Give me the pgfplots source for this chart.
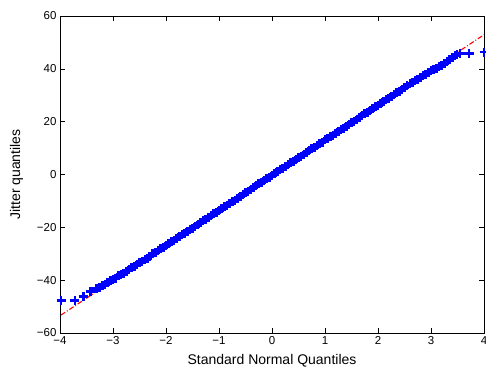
\documentclass[border=0pt]{standalone}
\usepackage{fontspec}
\setmainfont{Liberation Sans}
\usepackage{pgfplots}
\pgfplotsset{compat=1.18}
\begin{document}
\begin{tikzpicture}
\begin{axis}[
  scale only axis,
  width=424pt, height=317pt,
  xmin=-4, xmax=4, ymin=-60, ymax=60,
  xtick={-4,-3,-2,-1,0,1,2,3,4},
  xticklabels={−4,−3,−2,−1,0,1,2,3,4},
  ytick={-60,-40,-20,0,20,40,60},
  yticklabels={−60,−40,−20,0,20,40,60},
  tick align=inside,
  major tick length=5pt,
  axis line style={line width=0.6pt},
  every tick/.style={black, line width=0.6pt},
  tick label style={font=\fontsize{11.5}{13}\selectfont},
  label style={font=\fontsize{14}{16}\selectfont},
  xlabel={Standard Normal Quantiles},
  ylabel={Jitter quantiles},
  xlabel style={yshift=-3pt},
  ylabel style={yshift=7pt},
  clip=true,
]
\coordinate (sw) at (rel axis cs:0,0);
\coordinate (ne) at (rel axis cs:1,1);
\addplot[only marks, mark=+, mark size=4.5pt, color=blue, mark options={line width=2.6pt}] coordinates {
(-3.98,-47.8) (-3.72,-47.8) (-3.56,-46.2) (-3.43,-44.3) (-3.31,-43.1)
(-3.25,-42.8) (-3.20,-42.2) (-3.15,-41.6) (-3.10,-41.0) (-3.05,-40.3)
(-3.00,-39.6) (-2.95,-39.2) (-2.90,-38.4) (-2.85,-37.8) (-2.80,-37.3)
(-2.75,-36.6) (-2.70,-36.1) (-2.65,-35.1) (-2.60,-34.7) (-2.55,-34.2)
(-2.50,-33.3) (-2.45,-32.8) (-2.40,-32.0) (-2.35,-31.7) (-2.30,-30.9)
(-2.25,-30.0) (-2.20,-29.7) (-2.15,-28.8) (-2.10,-28.2) (-2.05,-27.8)
(-2.00,-26.8) (-1.95,-26.2) (-1.90,-25.5) (-1.85,-25.0) (-1.80,-24.1)
(-1.75,-23.6) (-1.70,-22.8) (-1.65,-22.3) (-1.60,-21.6) (-1.55,-20.8)
(-1.50,-20.3) (-1.45,-19.7) (-1.40,-18.9) (-1.35,-18.2) (-1.30,-17.6)
(-1.25,-17.0) (-1.20,-16.3) (-1.15,-15.5) (-1.10,-14.9) (-1.05,-14.4)
(-1.00,-13.6) (-0.95,-12.8) (-0.90,-12.3) (-0.85,-11.6) (-0.80,-10.8)
(-0.75,-10.3) (-0.70,-9.7) (-0.65,-8.9) (-0.60,-8.3) (-0.55,-7.5)
(-0.50,-7.0) (-0.45,-6.3) (-0.40,-5.7) (-0.35,-5.0) (-0.30,-4.3)
(-0.25,-3.5) (-0.20,-3.0) (-0.15,-2.3) (-0.10,-1.6) (-0.05,-1.0)
(0.00,-0.3) (0.05,0.4) (0.10,1.0) (0.15,1.8) (0.20,2.4)
(0.25,3.0) (0.30,3.6) (0.35,4.4) (0.40,5.0) (0.45,5.8)
(0.50,6.4) (0.55,7.0) (0.60,7.6) (0.65,8.3) (0.70,9.0)
(0.75,9.8) (0.80,10.3) (0.85,11.0) (0.90,11.6) (0.95,12.3)
(1.00,13.1) (1.05,13.7) (1.10,14.3) (1.15,14.9) (1.20,15.7)
(1.25,16.4) (1.30,17.0) (1.35,17.6) (1.40,18.3) (1.45,19.1)
(1.50,19.7) (1.55,20.2) (1.60,21.0) (1.65,21.7) (1.70,22.3)
(1.75,23.0) (1.80,23.5) (1.85,24.3) (1.90,25.1) (1.95,25.6)
(2.00,26.2) (2.05,27.0) (2.10,27.7) (2.15,28.3) (2.20,28.9)
(2.25,29.6) (2.30,30.3) (2.35,30.9) (2.40,31.6) (2.45,32.2)
(2.50,33.0) (2.55,33.5) (2.60,34.3) (2.65,34.7) (2.70,35.5)
(2.75,36.1) (2.80,36.7) (2.85,37.5) (2.90,38.0) (2.95,38.7)
(3.00,39.2) (3.05,39.8) (3.10,40.3) (3.15,40.8) (3.20,41.3)
(3.25,41.9) (3.30,42.6) (3.35,43.4) (3.40,44.2) (3.45,44.9)
(3.49,45.3) (3.55,45.9) (3.72,45.9) (4.00,46.3)
};
\addplot[red, line width=1.1pt, dash pattern=on 5pt off 2pt on 1pt off 2pt] coordinates {(-3.98,-53.2) (4.00,52.9)};
\addplot[green!50!black, line width=0.5pt] coordinates {(-0.674,-9.3) (0.674,8.7)};
\end{axis}
\pgfresetboundingbox
\path ([shift={(-60pt,-39pt)}]sw) rectangle ([shift={(2pt,16pt)}]ne);
\end{tikzpicture}
\end{document}
